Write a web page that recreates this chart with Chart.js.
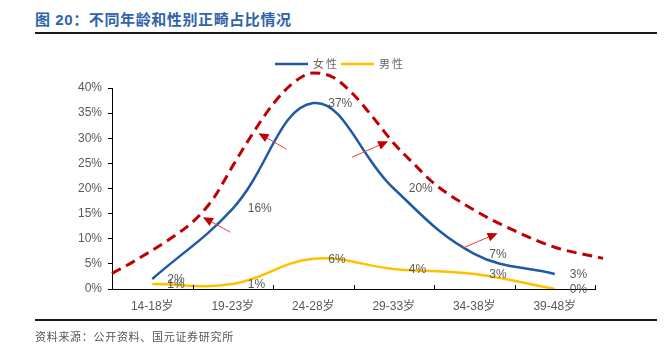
<!DOCTYPE html>
<html><head><meta charset="utf-8">
<script src="https://cdn.jsdelivr.net/npm/chart.js@4"></script>
<style>
html,body{margin:0;padding:0;background:#fff;}
#wrap{position:relative;width:669px;height:358px;overflow:hidden;background:#fff;}
#title{position:absolute;left:35px;top:10px;font:bold 15px "Liberation Sans","Noto Sans CJK SC";color:#3063aa;letter-spacing:0.6px;white-space:nowrap;line-height:20px;}
.rule{position:absolute;left:35px;width:622px;height:2px;background:#1a1a1a;}
#src{position:absolute;left:35px;top:328px;font:11px "Noto Sans CJK SC";color:#555;letter-spacing:0.7px;line-height:16px;white-space:nowrap;}
canvas{position:absolute;left:0;top:0;}
</style></head>
<body>
<div id="wrap">
<div id="title">图 20：不同年龄和性别正畸占比情况</div>
<div class="rule" style="top:32px"></div>
<canvas id="c" width="669" height="358"></canvas>
<div class="rule" style="top:319px"></div>
<div id="src">资料来源：公开资料、国元证券研究所</div>
</div>
<script>
const categories = ['14-18岁','19-23岁','24-28岁','29-33岁','34-38岁','39-48岁'];
const female = [2,16,37,20,7,3];
const male = [1,1,6,4,3,0];
const seriesNames = ['女性','男性'];
// decorative dashed envelope (position along category index, value %)
const trendX = [-0.5,-0.25,0,0.25,0.5,0.75,1,1.25,1.5,1.75,2,2.25,2.5,2.75,3,3.25,3.5,4,4.5,5,5.6];
const trendY = [3.1,5.3,7.7,10.3,13.3,17.8,24.5,31.0,36.8,41.0,43.0,42.1,38.7,34.0,29.0,24.9,21.0,15.7,11.6,8.3,6.1];
// arrows: [fromIndex, fromValue, toIndex, toValue]
const arrows = [[0.97,11.3,0.63,14.3],[1.67,27.8,1.32,31.0],[2.48,26.2,2.93,29.4],[3.85,8.1,4.29,11.1]];
const yMax = 40, yStep = 5;

const BLUE='#1f5aa9', GOLD='#ffc000', RED='#c00000';
const FONT='"Liberation Sans","Noto Sans CJK SC"';

const overlay = {
  id:'overlay',
  afterDatasetsDraw(chart){
    const ctx=chart.ctx, ca=chart.chartArea, x2=chart.scales.x2, y=chart.scales.y;
    ctx.save();
    arrows.forEach(a=>{
      const sx=x2.getPixelForValue(a[0]), sy=y.getPixelForValue(a[1]);
      const ex=x2.getPixelForValue(a[2]), ey=y.getPixelForValue(a[3]);
      const ang=Math.atan2(ey-sy,ex-sx), L=10, W=4.5;
      const bx=ex-L*Math.cos(ang), by=ey-L*Math.sin(ang);
      ctx.strokeStyle='#e5413b'; ctx.lineWidth=1;
      ctx.beginPath(); ctx.moveTo(sx,sy); ctx.lineTo(bx,by); ctx.stroke();
      ctx.fillStyle=RED;
      ctx.beginPath(); ctx.moveTo(ex,ey);
      ctx.lineTo(bx+W*Math.sin(ang),by-W*Math.cos(ang));
      ctx.lineTo(bx-W*Math.sin(ang),by+W*Math.cos(ang));
      ctx.closePath(); ctx.fill();
    });
    ctx.strokeStyle='#000'; ctx.lineWidth=1;
    for(let i=0;i<=categories.length;i++){
      const px=Math.round(x2.getPixelForValue(i-0.5))+0.5;
      ctx.beginPath(); ctx.moveTo(px,ca.bottom); ctx.lineTo(px,ca.bottom-4); ctx.stroke();
    }
    ctx.font='12px '+FONT; ctx.fillStyle='#595959'; ctx.textAlign='left'; ctx.textBaseline='middle';
    [0,1].forEach(di=>{
      const meta=chart.getDatasetMeta(di);
      meta.data.forEach((pt,i)=>{
        ctx.fillText(chart.data.datasets[di].data[i]+'%', pt.x+15, pt.y+0.5);
      });
    });
    const ly=64;
    const items=[{c:BLUE,x:275,t:seriesNames[0]},{c:GOLD,x:341,t:seriesNames[1]}];
    ctx.font='11px "Noto Sans CJK SC"'; ctx.fillStyle='#666';
    items.forEach(it=>{
      ctx.strokeStyle=it.c; ctx.lineWidth=2.5;
      ctx.beginPath(); ctx.moveTo(it.x,ly); ctx.lineTo(it.x+33,ly); ctx.stroke();
      [...it.t].forEach((ch,k)=>{ ctx.fillText(ch, it.x+38+k*13, ly); });
    });
    ctx.restore();
  }
};

new Chart(document.getElementById('c'),{
  type:'line',
  data:{
    labels:categories,
    datasets:[
      {label:seriesNames[0],data:female,borderColor:BLUE,borderWidth:2.5,pointRadius:0,tension:0.4,fill:false},
      {label:seriesNames[1],data:male,borderColor:GOLD,borderWidth:2.5,pointRadius:0,tension:0.4,fill:false},
      {label:'trend',xAxisID:'x2',data:trendX.map((v,i)=>({x:v,y:trendY[i]})),borderColor:RED,borderWidth:3,borderDash:[10,6],pointRadius:0,cubicInterpolationMode:'monotone',clip:false,fill:false}
    ]
  },
  options:{
    responsive:false, animation:false, devicePixelRatio:1,
    layout:{padding:{left:0,top:88,right:74,bottom:0}},
    plugins:{legend:{display:false},tooltip:{enabled:false}},
    scales:{
      x:{type:'category',offset:true,
        grid:{display:false},
        border:{display:true,color:'#000',width:1},
        ticks:{color:'#595959',font:{size:12,family:FONT},padding:2,maxRotation:0,autoSkip:false},
        afterFit(s){s.height=358-289;}
      },
      x2:{type:'linear',display:false,min:-0.5,max:5.5},
      y:{min:0,max:yMax,
        ticks:{stepSize:yStep,color:'#595959',font:{size:12,family:FONT},padding:6,callback:v=>v+'%'},
        grid:{drawOnChartArea:false,drawTicks:true,tickLength:4,color:'#000'},
        border:{display:true,color:'#000',width:1},
        afterFit(s){s.width=112;}
      }
    }
  },
  plugins:[overlay]
});
</script>
</body></html>
